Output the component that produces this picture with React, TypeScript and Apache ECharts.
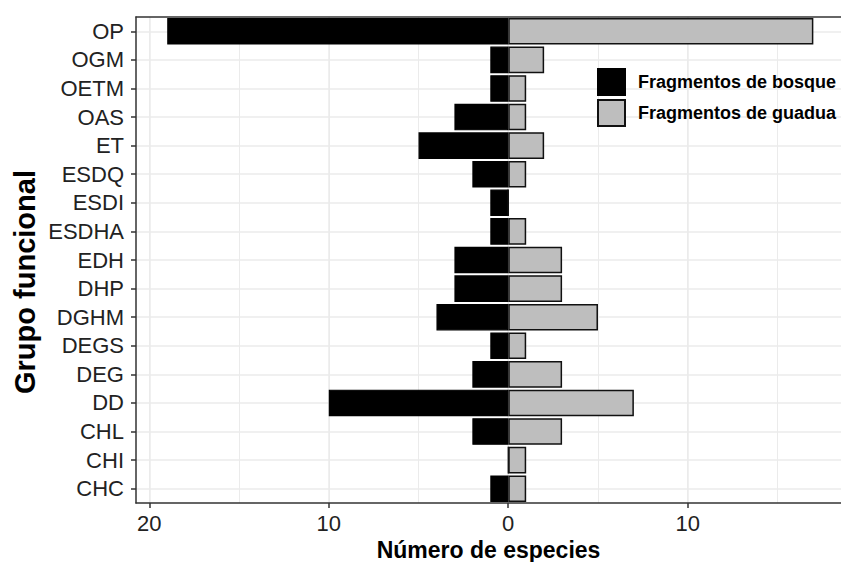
import React, { useEffect, useRef } from "react";
import * as echarts from "echarts";

const categories = ["OP", "OGM", "OETM", "OAS", "ET", "ESDQ", "ESDI", "ESDHA", "EDH", "DHP", "DGHM", "DEGS", "DEG", "DD", "CHL", "CHI", "CHC"];
const bosqueValues = [-19, -1, -1, -3, -5, -2, -1, -1, -3, -3, -4, -1, -2, -10, -2, 0, -1];
const guaduaValues = [17, 2, 1, 1, 2, 1, 0, 1, 3, 3, 5, 1, 3, 7, 3, 1, 1];
const seriesNames = ["Fragmentos de bosque", "Fragmentos de guadua"];
const xMajorTicks = [-20, -10, 0, 10];
const xMinorGrid = [-20, -15, -10, -5, 0, 5, 10, 15];
const xTitle = "Número de especies";
const yTitle = "Grupo funcional";

const FONT = "'Liberation Sans', Arial, Helvetica, sans-serif";
const X_MIN = -20.74;
const X_MAX = 18.54;
const categoryCenters = categories.map((_, i) => i);

export default function App() {
  const ref = useRef<HTMLDivElement>(null);
  useEffect(() => {
    if (!ref.current) return;
    const chart = echarts.init(ref.current, undefined, { renderer: "svg" });
    chart.setOption({
      animation: false,
      textStyle: { fontFamily: FONT },
      grid: { left: 136, right: 0, top: 17, bottom: 59, containLabel: false, outerBoundsMode: "none" },
      legend: {
        orient: "vertical",
        left: 597,
        top: 68,
        padding: 0,
        itemWidth: 27,
        itemHeight: 26,
        itemGap: 3,
        icon: "rect",
        data: seriesNames,
        textStyle: { fontFamily: FONT, fontSize: 18, fontWeight: "bold", color: "#000", padding: [0, 0, 0, 8] },
      },
      xAxis: [
        {
          type: "value",
          min: X_MIN,
          max: X_MAX,
          position: "bottom",
          name: xTitle,
          nameLocation: "middle",
          nameGap: 28,
          nameTextStyle: { fontFamily: FONT, fontSize: 23, lineHeight: 23, fontWeight: "bold", color: "#000" },
          axisLine: { show: true, onZero: false, lineStyle: { color: "#333", width: 1.5 } },
          axisTick: { show: true, length: 5, customValues: xMajorTicks, lineStyle: { color: "#333", width: 1.5 } },
          axisLabel: {
            fontFamily: FONT,
            fontSize: 22,
            color: "#222",
            margin: 9,
            customValues: xMajorTicks,
            formatter: (v: number) => String(Math.abs(v)),
          },
          splitLine: { show: true, lineStyle: { color: "#ebebeb", width: 1.5 } },
        },
        {
          type: "value",
          min: X_MIN,
          max: X_MAX,
          position: "top",
          axisLine: { show: true, onZero: false, lineStyle: { color: "#333", width: 1.5 } },
          axisTick: { show: false, customValues: xMinorGrid },
          axisLabel: { show: false },
          splitLine: { show: true, lineStyle: { color: "#ebebeb", width: 1 } },
        },
      ],
      yAxis: [
        {
          type: "category",
          data: categories,
          inverse: true,
          axisLine: { show: true, onZero: false, lineStyle: { color: "#333", width: 1.5 } },
          axisTick: { show: true, interval: 0, alignWithLabel: true, length: 5, lineStyle: { color: "#333", width: 1.5 } },
          axisLabel: { interval: 0, fontFamily: FONT, fontSize: 22, color: "#222", margin: 12 },
          splitLine: { show: false },
        },
        {
          type: "value",
          min: -0.5,
          max: categories.length - 0.5,
          inverse: true,
          position: "right",
          axisLine: { show: false, onZero: false },
          axisTick: { show: false, customValues: categoryCenters },
          axisLabel: { show: false },
          splitLine: { show: true, lineStyle: { color: "#ebebeb", width: 1.5 } },
        },
      ],
      series: [
        {
          name: seriesNames[0],
          type: "bar",
          xAxisIndex: 0,
          yAxisIndex: 0,
          data: bosqueValues,
          barCategoryGap: "7%",
          barGap: "-100%",
          itemStyle: { color: "#000", borderColor: "#000", borderWidth: 1.2 },
        },
        {
          name: seriesNames[1],
          type: "bar",
          xAxisIndex: 0,
          yAxisIndex: 0,
          data: guaduaValues,
          barCategoryGap: "7%",
          barGap: "-100%",
          itemStyle: { color: "#bebebe", borderColor: "#111", borderWidth: 1.5 },
        },
      ],
      graphic: [
        {
          type: "text",
          x: 25,
          y: 282,
          rotation: Math.PI / 2,
          style: {
            text: yTitle,
            fontFamily: FONT,
            fontSize: 29,
            fontWeight: "bold",
            fill: "#000",
            textAlign: "center",
            textVerticalAlign: "middle",
          },
        },
      ],
    });
    return () => chart.dispose();
  }, []);
  return <div ref={ref} style={{ position: "absolute", left: 0, top: 0, width: 841, height: 562 }} />;
}
